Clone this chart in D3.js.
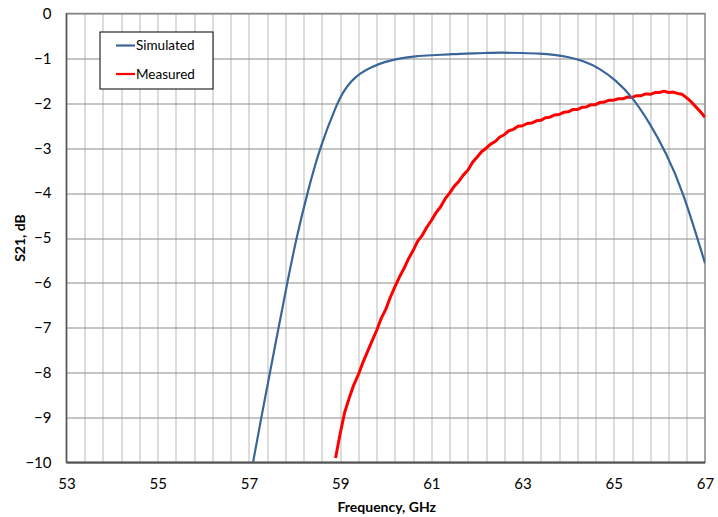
<!DOCTYPE html>
<html>
<head>
<meta charset="utf-8">
<script src="https://cdn.jsdelivr.net/npm/d3@7"></script>
<style>
  body { margin: 0; background: #fff; }
  text { font-family: Lato, "Open Sans", sans-serif; fill: #000; }
</style>
</head>
<body>
<div id="chart"></div>
<script>
// values
var xTicks = [53, 55, 57, 59, 61, 63, 65, 67];
var yTicks = [0, -1, -2, -3, -4, -5, -6, -7, -8, -9, -10];

var simFreq = [57.09, 57.27, 57.46, 57.65, 57.84, 58.04, 58.28, 58.55, 58.93, 59.09, 59.24, 59.42, 59.68,
  60.00, 60.29, 60.66, 61.00, 61.40, 61.75, 62.20, 62.51, 63.00, 63.39, 63.70, 63.97, 64.33, 64.69,
  65.06, 65.40, 65.79, 66.15, 66.51, 67.00];
var simVal = [-10, -9, -8, -7, -6, -5, -4, -3, -2, -1.71, -1.51, -1.34, -1.19,
  -1.07, -1.00, -0.95, -0.93, -0.91, -0.89, -0.88, -0.87, -0.88, -0.89, -0.92, -0.96, -1.05, -1.22,
  -1.50, -1.85, -2.44, -3.11, -3.93, -5.56];

var measFreq = [58.9, 59.0, 59.1, 59.2, 59.3, 59.4, 59.5, 59.6, 59.7, 59.8, 59.9,
  60.0, 60.1, 60.2, 60.3, 60.4, 60.5, 60.6, 60.7, 60.8, 60.9,
  61.0, 61.1, 61.2, 61.3, 61.4, 61.5, 61.6, 61.7, 61.8, 61.9,
  62.0, 62.1, 62.2, 62.3, 62.4, 62.5, 62.6, 62.7, 62.8, 62.9,
  63.0, 63.1, 63.2, 63.3, 63.4, 63.5, 63.6, 63.7, 63.8, 63.9,
  64.0, 64.1, 64.2, 64.3, 64.4, 64.5, 64.6, 64.7, 64.8, 64.9,
  65.0, 65.1, 65.2, 65.3, 65.4, 65.5, 65.6, 65.7, 65.8, 65.9,
  66.0, 66.1, 66.2, 66.3, 66.4, 66.5, 66.6, 66.7, 66.8, 66.9, 67.0];
var measVal = [-9.90, -9.36, -8.88, -8.56, -8.27, -8.04, -7.77, -7.53, -7.29, -7.06, -6.79,
  -6.59, -6.32, -6.09, -5.87, -5.68, -5.46, -5.28, -5.07, -4.94, -4.76,
  -4.61, -4.44, -4.31, -4.13, -4.00, -3.85, -3.74, -3.60, -3.49, -3.32,
  -3.20, -3.08, -3.00, -2.91, -2.85, -2.75, -2.70, -2.61, -2.58, -2.51,
  -2.50, -2.45, -2.44, -2.39, -2.38, -2.32, -2.31, -2.26, -2.25, -2.20,
  -2.19, -2.14, -2.14, -2.09, -2.08, -2.03, -2.03, -1.98, -1.97, -1.93,
  -1.93, -1.90, -1.90, -1.86, -1.87, -1.83, -1.83, -1.79, -1.80, -1.76,
  -1.76, -1.73, -1.76, -1.75, -1.78, -1.80, -1.88, -1.97, -2.08, -2.19, -2.31];

var seriesNames = ["Simulated", "Measured"];
var seriesColors = ["#3a6598", "#ff0000"];

var W = 718, H = 517;
var margin = {top: 13.5, right: 13, bottom: 54.5, left: 66.5},
    width = W - margin.left - margin.right,
    height = H - margin.top - margin.bottom;

var svg = d3.select("#chart").append("svg")
    .attr("width", W)
    .attr("height", H)
  .append("g")
    .attr("transform", "translate(" + margin.left + "," + margin.top + ")");

var x = d3.scaleLinear().domain([53, 67]).range([0, width]);
var y = d3.scaleLinear().domain([-10, 0]).range([height, 0]);

// minor vertical grid every 0.4 GHz
var minor = d3.range(1, 35).map(function(i) { return 53 + i * 0.4; });
svg.append("g")
  .selectAll("line").data(minor).enter().append("line")
    .attr("x1", function(d) { return Math.round(x(d)) + 0.5; })
    .attr("x2", function(d) { return Math.round(x(d)) + 0.5; })
    .attr("y1", 0).attr("y2", height)
    .attr("stroke", "#d0d0d0").attr("stroke-width", 1.5);

// horizontal grid
svg.append("g")
  .selectAll("line").data(yTicks).enter().append("line")
    .attr("x1", 0).attr("x2", width)
    .attr("y1", function(d) { return Math.round(y(d)) + 0.5; })
    .attr("y2", function(d) { return Math.round(y(d)) + 0.5; })
    .attr("stroke", "#8c8c8c").attr("stroke-width", 1.2);

// plot border
svg.append("rect")
  .attr("x", 0).attr("y", 0).attr("width", width).attr("height", height)
  .attr("fill", "none").attr("stroke", "#858585").attr("stroke-width", 1.5);
svg.append("line").attr("x1", 0).attr("x2", 0).attr("y1", 0).attr("y2", height)
  .attr("stroke", "#555").attr("stroke-width", 1.5);
svg.append("line").attr("x1", 0).attr("x2", width).attr("y1", height).attr("y2", height)
  .attr("stroke", "#555").attr("stroke-width", 2);

// axes
var xAxis = svg.append("g")
  .attr("transform", "translate(0," + height + ")")
  .call(d3.axisBottom(x).tickValues(xTicks).tickSize(0).tickPadding(16));
xAxis.select(".domain").remove();
xAxis.selectAll("text").style("font-size", "15px").style("font-family", "Lato, sans-serif");

var yAxis = svg.append("g")
  .call(d3.axisLeft(y).tickValues(yTicks).tickSize(0).tickPadding(15));
yAxis.select(".domain").remove();
yAxis.selectAll("text").style("font-size", "15px").style("font-family", "Lato, sans-serif");

// clip
svg.append("clipPath").attr("id", "clip")
  .append("rect").attr("width", width).attr("height", height);

var simData = simFreq.map(function(f, i) { return {f: f, v: simVal[i]}; });
var measData = measFreq.map(function(f, i) { return {f: f, v: measVal[i]}; });

var simLine = d3.line()
  .x(function(d) { return x(d.f); })
  .y(function(d) { return y(d.v); })
  .curve(d3.curveBasis);
var measLine = d3.line()
  .x(function(d) { return x(d.f); })
  .y(function(d) { return y(d.v); });

svg.append("path")
  .datum(measData)
  .attr("clip-path", "url(#clip)")
  .attr("fill", "none")
  .attr("stroke", seriesColors[1])
  .attr("stroke-width", 3)
  .attr("stroke-linejoin", "round")
  .attr("d", measLine);

svg.append("path")
  .datum(simData)
  .attr("clip-path", "url(#clip)")
  .attr("fill", "none")
  .attr("stroke", seriesColors[0])
  .attr("stroke-width", 2.2)
  .attr("d", simLine);

// legend
var legend = svg.append("g").attr("transform", "translate(" + (100 - margin.left) + "," + (32 - margin.top) + ")");
legend.append("rect")
  .attr("width", 113).attr("height", 57)
  .attr("fill", "#fff").attr("stroke", "#000").attr("stroke-width", 1);
seriesNames.forEach(function(name, i) {
  var yy = 13.5 + i * 28.5;
  legend.append("line")
    .attr("x1", 16).attr("x2", 35).attr("y1", yy).attr("y2", yy)
    .attr("stroke", seriesColors[i]).attr("stroke-width", 2.2);
  legend.append("text")
    .attr("x", 36).attr("y", yy).attr("dy", "0.35em")
    .style("font-size", "13.5px")
    .text(name);
});

// axis titles
svg.append("text")
  .attr("x", width / 2 + 1).attr("y", height + 49)
  .attr("text-anchor", "middle")
  .style("font-size", "14px").style("font-weight", "bold")
  .text("Frequency, GHz");

svg.append("text")
  .attr("transform", "translate(" + (-margin.left + 25) + "," + (height / 2) + ") rotate(-90)")
  .attr("text-anchor", "middle")
  .style("font-size", "14px").style("font-weight", "bold")
  .text("S21, dB");
</script>
</body>
</html>
